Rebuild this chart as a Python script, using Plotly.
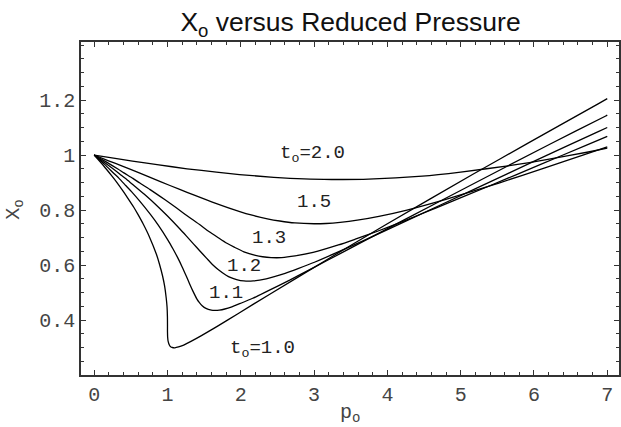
import plotly.graph_objects as go

# Compressibility factor X_o against reduced pressure p_o, one isotherm per t_o
p_t10 = [0, 0.128, 0.246, 0.301, 0.387, 0.451, 0.540, 0.597, 0.667, 0.751, 0.850, 0.892,
         0.933, 0.961, 0.983, 0.994, 0.999, 1.000, 1.000, 1.002, 1.009, 1.027, 1.043, 1.067,
         1.101, 1.150, 1.221, 1.320, 1.463, 1.667, 1.961, 2.390, 3.191, 4.000, 5.161, 5.931,
         6.875, 7.000]
x_t10 = [1.000, 0.961, 0.922, 0.903, 0.871, 0.846, 0.810, 0.784, 0.750, 0.704, 0.638, 0.602,
         0.560, 0.523, 0.479, 0.447, 0.412, 0.375, 0.356, 0.338, 0.322, 0.308, 0.303, 0.300,
         0.299, 0.302, 0.309, 0.322, 0.343, 0.375, 0.423, 0.493, 0.622, 0.750, 0.929, 1.045,
         1.186, 1.205]

p_t11 = [0, 0.142, 0.273, 0.336, 0.434, 0.509, 0.613, 0.767, 0.874, 1.010, 1.074, 1.144,
         1.200, 1.259, 1.301, 1.347, 1.400, 1.433, 1.473, 1.525, 1.598, 1.647, 1.707, 1.782,
         1.878, 2.001, 2.163, 2.377, 2.667, 2.974, 3.375, 4.235, 5.070, 6.229, 6.979, 7.000]
x_t11 = [1.000, 0.966, 0.932, 0.916, 0.888, 0.867, 0.835, 0.784, 0.745, 0.689, 0.659, 0.624,
         0.593, 0.558, 0.532, 0.505, 0.477, 0.464, 0.452, 0.442, 0.436, 0.435, 0.436, 0.440,
         0.448, 0.461, 0.479, 0.507, 0.545, 0.588, 0.644, 0.765, 0.881, 1.041, 1.142, 1.145]

p_t12 = [0, 0.155, 0.301, 0.371, 0.481, 0.566, 0.685, 0.867, 0.997, 1.170, 1.256, 1.354,
         1.439, 1.535, 1.609, 1.695, 1.800, 1.865, 1.943, 2.041, 2.170, 2.347, 2.605, 2.781,
         3.005, 3.291, 3.667, 4.288, 5.196, 6.048, 6.877, 7.000]
x_t12 = [1.000, 0.970, 0.941, 0.926, 0.903, 0.884, 0.857, 0.813, 0.779, 0.731, 0.706, 0.677,
         0.652, 0.624, 0.603, 0.583, 0.563, 0.554, 0.547, 0.542, 0.542, 0.550, 0.570, 0.587,
         0.610, 0.643, 0.688, 0.764, 0.877, 0.983, 1.085, 1.100]

p_t13 = [0, 0.169, 0.329, 0.405, 0.528, 0.623, 0.758, 0.967, 1.120, 1.330, 1.438, 1.565,
         1.678, 1.811, 1.917, 2.042, 2.200, 2.298, 2.414, 2.557, 2.741, 2.987, 3.332, 3.562,
         3.847, 4.206, 4.667, 5.414, 6.083, 6.709, 7.000]
x_t13 = [1.000, 0.974, 0.948, 0.935, 0.915, 0.898, 0.875, 0.837, 0.808, 0.767, 0.747, 0.722,
         0.702, 0.679, 0.664, 0.648, 0.635, 0.630, 0.627, 0.627, 0.633, 0.646, 0.673, 0.694,
         0.721, 0.758, 0.808, 0.890, 0.965, 1.035, 1.068]

p_t15 = [0, 0.196, 0.384, 0.623, 0.903, 1.167, 1.366, 1.650, 1.986, 2.155, 2.363, 2.532,
         2.738, 3.000, 3.162, 3.355, 3.590, 3.884, 4.267, 4.787, 5.123, 5.531, 6.149, 6.667,
         7.000]
x_t15 = [1.000, 0.979, 0.960, 0.934, 0.903, 0.875, 0.854, 0.825, 0.794, 0.781, 0.768, 0.760,
         0.753, 0.750, 0.751, 0.755, 0.763, 0.777, 0.800, 0.838, 0.865, 0.899, 0.953, 1.000,
         1.030]

p_t20 = [0, 0.264, 0.522, 0.858, 1.267, 1.667, 1.982, 2.450, 2.864, 3.238, 3.742, 4.477,
         5.000, 5.708, 6.170, 6.741, 7.000]
x_t20 = [1.000, 0.989, 0.978, 0.965, 0.950, 0.938, 0.929, 0.919, 0.913, 0.911, 0.912, 0.923,
         0.938, 0.963, 0.983, 1.011, 1.025]

curves = [(p_t10, x_t10), (p_t11, x_t11), (p_t12, x_t12),
          (p_t13, x_t13), (p_t15, x_t15), (p_t20, x_t20)]

# Curve labels: text, p_o position, X_o position
label_text = ["t<sub>o</sub>=2.0", "1.5", "1.3", "1.2", "1.1", "t<sub>o</sub>=1.0"]
label_p = [2.98, 3.00, 2.39, 2.05, 1.80, 2.29]
label_x = [1.005, 0.828, 0.700, 0.597, 0.500, 0.295]

x_ticks = [0, 1, 2, 3, 4, 5, 6, 7]
y_ticks = [0.4, 0.6, 0.8, 1.0, 1.2]
y_ticklabels = ["0.4", "0.6", "0.8", "1", "1.2"]

x_title = "p<sub>o</sub>"
y_title = "X<sub>o</sub>"
chart_title = "X<sub>o</sub> versus Reduced Pressure"

MONO = "Liberation Mono, Courier New, monospace"
SANS = "Liberation Sans, Arial, sans-serif"
INK = "#222222"
AXIS = "#333333"
LABEL_GREY = "#444444"

fig = go.Figure()
for p, xo in curves:
    fig.add_trace(go.Scatter(x=p, y=xo, mode="lines",
                             line=dict(color="black", width=1.3, shape="spline", smoothing=0.6),
                             hoverinfo="skip", showlegend=False))

for txt, px, py in zip(label_text, label_p, label_x):
    fig.add_annotation(x=px, y=py, text=txt, showarrow=False,
                       xanchor="center", yanchor="middle",
                       font=dict(family=MONO, size=19, color=INK))

# Axis titles placed in paper space just outside the frame
fig.add_annotation(x=0.5, y=-0.116, xref="paper", yref="paper", text=x_title,
                   showarrow=False, xanchor="center", yanchor="middle",
                   font=dict(family=MONO, size=20, color=LABEL_GREY))
fig.add_annotation(x=-0.124, y=0.497, xref="paper", yref="paper", text=y_title,
                   showarrow=False, xanchor="center", yanchor="middle", textangle=-90,
                   font=dict(family=MONO, size=20, color=LABEL_GREY))

axis_common = dict(
    showgrid=False, zeroline=False, showline=True, linecolor=AXIS, linewidth=1.5,
    mirror="allticks", ticks="inside", ticklen=5, tickwidth=1, tickcolor=AXIS,
    tickfont=dict(family=MONO, size=20, color=LABEL_GREY), automargin=False,
)

fig.update_xaxes(
    range=[-0.18, 7.16], tickmode="array", tickvals=x_ticks,
    ticktext=[str(v) for v in x_ticks],
    minor=dict(tickmode="linear", tick0=0, dtick=0.2, ticks="inside", ticklen=3,
               tickwidth=1, tickcolor=AXIS),
    **axis_common,
)
fig.update_yaxes(
    range=[0.2, 1.411], tickmode="array", tickvals=y_ticks, ticktext=y_ticklabels,
    minor=dict(tickmode="linear", tick0=0, dtick=0.05, ticks="inside", ticklen=3,
               tickwidth=1, tickcolor=AXIS),
    **axis_common,
)

fig.update_layout(
    width=621, height=427, autosize=False,
    margin=dict(l=81, r=2, t=42, b=52),
    paper_bgcolor="white", plot_bgcolor="white",
    title=dict(text=chart_title, x=0.5645, xanchor="center",
               y=0.948, yanchor="middle", font=dict(family=SANS, size=26.5, color="#111111")),
)

fig.write_html("out.html")
